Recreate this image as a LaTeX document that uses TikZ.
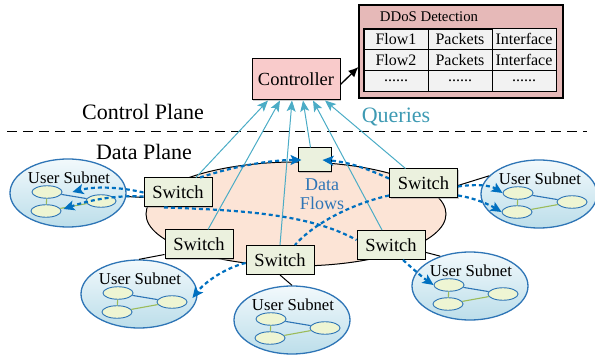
\documentclass[tikz,border=0pt]{standalone}
\usepackage{fontspec}
\setmainfont{Liberation Serif}
\usetikzlibrary{shapes.geometric,arrows.meta,matrix,shadows}

\definecolor{ctrlfill}{HTML}{F9CBCB}
\definecolor{ddosfill}{HTML}{E6B9B8}
\definecolor{cellfill}{HTML}{F2F2F2}
\definecolor{swfill}{HTML}{EBF1DE}
\definecolor{domfill}{HTML}{FCE4D6}
\definecolor{subblue}{HTML}{2E75B6}
\definecolor{subtop}{HTML}{F2F9FC}
\definecolor{subbot}{HTML}{BCDEEA}
\definecolor{hostfill}{HTML}{EEF5D3}
\definecolor{hostgreen}{HTML}{9BBB59}
\definecolor{flowblue}{HTML}{0070C0}
\definecolor{qline}{HTML}{4BACC6}
\definecolor{qtext}{HTML}{3E9AB3}

\begin{document}
\begin{tikzpicture}[x=1pt,y=-1pt,
  boxshadow/.style={drop shadow={shadow xshift=1pt,shadow yshift=-1pt,fill=black!40}},
  switchbox/.style={draw,line width=1pt,fill=swfill,minimum width=68,minimum height=29,inner sep=0pt,font=\fontsize{18.5}{20}\selectfont,boxshadow},
  subnet/.style={ellipse,draw=subblue,line width=1.3pt,top color=subtop,bottom color=subbot,minimum width=116,minimum height=68,inner sep=0pt},
  host/.style={ellipse,draw=subblue,line width=0.9pt,fill=hostfill,minimum width=30,minimum height=12.5,inner sep=0pt},
  hostlink/.style={line width=1.1pt},
  link/.style={line width=1pt},
  query/.style={draw=qline,line width=1pt,-{Stealth[length=11pt,width=9pt,inset=2.5pt]}},
  flow/.style={draw=flowblue,line width=2.2pt,dash pattern=on 4pt off 3pt,-{Stealth[length=11pt,width=10pt,inset=2.5pt]}},
  flowline/.style={draw=flowblue,line width=2.2pt,dash pattern=on 4pt off 3pt},
  cell/.style={draw,line width=0.8pt,fill=cellfill,minimum width=64,minimum height=20.7,inner sep=0pt,font=\fontsize{16}{16}\selectfont},
  bigtext/.style={font=\fontsize{22}{24}\selectfont,inner sep=0pt}]
\useasboundingbox (0,0) rectangle (595,358);

% data plane domain
\node[ellipse,draw,line width=1pt,fill=domfill,minimum width=300,minimum height=104,inner sep=0pt] (dom) at (296,214) {};

% user subnets
\foreach \n/\x/\y in {ua/68/193,ub/539/194,uc/139/294,ud/292/320,ue/470/286}{
  \node[subnet] (\n) at (\x,\y) {};
  \node[font=\fontsize{16.7}{18}\selectfont,inner sep=0pt] (\n-t) at (\x+1,\y-15) {User Subnet};
  \node[host] (\n-a) at (\x-21,\y-1) {};
  \node[host] (\n-b) at (\x-22,\y+18) {};
  \node[host] (\n-c) at (\x+33,\y+8) {};
  \draw[hostlink,subblue] (\n-a) -- (\n-c);
  \draw[hostlink,hostgreen] (\n-a) -- (\n-b) -- (\n-c);
}

% switches
\node[switchbox] (s1) at (178,192.5) {Switch};
\node[switchbox] (s2) at (423.5,183.5) {Switch};
\node[switchbox] (s3) at (199,244.5) {Switch};
\node[switchbox] (s4) at (280,260) {Switch};
\node[switchbox] (s5) at (391,245) {Switch};
\node[draw,line width=1pt,fill=swfill,minimum width=33,minimum height=24,inner sep=0pt,boxshadow] (box) at (314.5,160) {};

% control plane
\node[draw,line width=1pt,fill=ctrlfill,minimum width=88,minimum height=41,inner sep=0pt,font=\fontsize{18.5}{20}\selectfont,boxshadow] (ctrl) at (296,79.5) {Controller};
\node[draw,line width=1.2pt,fill=ddosfill,minimum width=204,minimum height=93,inner sep=0pt,boxshadow] (ddos) at (461,51.5) {};
\node[font=\fontsize{14.8}{16}\selectfont,inner sep=0pt] (ddos-t) at (429,17) {DDoS Detection};
\matrix (tbl) [matrix of nodes,draw,line width=1.6pt,inner sep=0pt,column sep=-0.8pt,row sep=-0.8pt,nodes={cell}] at (460,60) {
  Flow1 & Packets & Interface \\
  Flow2 & Packets & Interface \\
  ...... & ...... & ...... \\
};
\draw[line width=1.3pt,-{Latex[length=10pt,width=9pt]}] ([yshift=-5pt]ctrl.east) -- ([yshift=-15.5pt]ddos.west);

% planes
\draw[line width=1pt,dash pattern=on 10pt off 6pt] (7,132) -- (587,132);
\node[bigtext] (cp) at (143,112) {Control Plane};
\node[bigtext] (dp) at (144,152) {Data Plane};
\node[bigtext,text=qtext] (qr) at (396,117) {Queries};
\node[font=\fontsize{18}{20}\selectfont,text=subblue,inner sep=0pt,align=center] (df) at (322,194) {Data\\[-1pt]Flows};

% switch to subnet links
\draw[link] ([yshift=-5pt]s1.west) -- (ua);
\draw[link] ([yshift=-2pt]s2.east) -- (ub.160);
\draw[link] ([yshift=5pt]s3.south west) -- (uc.north);
\draw[link] (s4.south) -- (ud.north);
\draw[link] (s5.-12) -- (ue.135);

% queries
\draw[query] (s1.40) -- ([xshift=-28pt]ctrl.south);
\draw[query] ([xshift=9pt]s3.north) -- ([xshift=-16pt]ctrl.south);
\draw[query] (s4.north) -- ([xshift=-4pt]ctrl.south);
\draw[query] ([xshift=-4pt]box.north) -- ([xshift=7pt]ctrl.south);
\draw[query] ([xshift=-9pt]s5.north) -- ([xshift=17pt]ctrl.south);
\draw[query] ([xshift=-18pt]s2.north) -- ([xshift=29pt]ctrl.south);

% data flows
\draw[flow] ([xshift=22pt]s1.north) .. controls (235,166) and (270,160) .. ([xshift=4pt]box.west);
\draw[flow] ([yshift=5pt]s2.west) .. controls (370,170) and (350,162) .. ([xshift=-9pt]box.east);
\draw[flow] (s1.west) .. controls (120,187) and (95,186) .. ([xshift=10pt]ua-a.east);
\draw[flow] ([yshift=-4pt]s1.west) .. controls (115,195) and (90,200) .. ([xshift=2pt,yshift=2pt]ua-b.east);
\draw[flowline] ([xshift=-14pt]s1.south) .. controls (240,210) and (310,214) .. ([yshift=5pt]s5.west);
\draw[flow] ([xshift=12pt]s5.south) .. controls (412,268) and (422,277) .. (ue-a.west);
\draw[flow] ([yshift=-3pt]s2.east) .. controls (475,184) and (490,185) .. (ub-a.west);
\draw[flow] ([yshift=-12pt]s2.east) .. controls (475,198) and (490,205) .. (ub-b.west);
\draw[flowline] ([yshift=-12pt]s2.west) .. controls (355,203) and (315,222) .. ([xshift=15pt]s4.north);
\draw[flow] ([yshift=-3pt]s4.west) .. controls (225,268) and (205,282) .. ([xshift=5pt,yshift=4pt]uc-c.east);
\end{tikzpicture}
\end{document}
